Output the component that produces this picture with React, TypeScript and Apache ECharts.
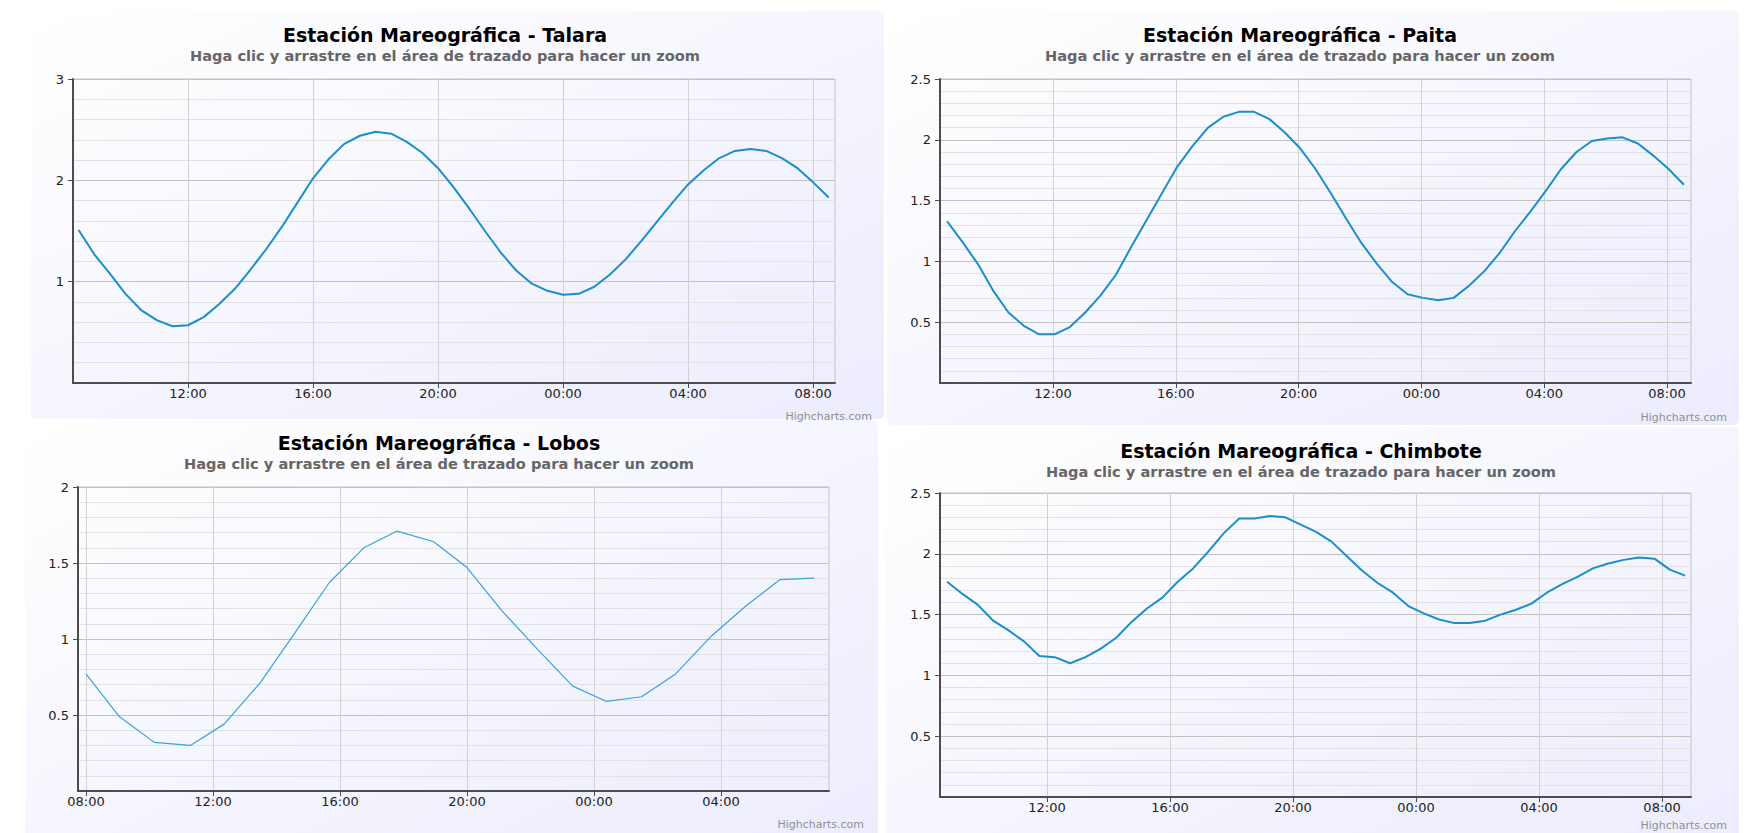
import React, { useEffect, useRef } from "react";
import * as echarts from "echarts";

const titlePrefix = "Estación Mareográfica - ";
const stationNames = ["Talara", "Paita", "Lobos", "Chimbote"];
const subtitleText = "Haga clic y arrastre en el área de trazado para hacer un zoom";
const creditText = "Highcharts.com";

// Talara: readings every 30 min starting 08:30 (hours since day-1 midnight)
const talaraStart = 8.5;
const talaraStep = 0.5;
const talaraValues = [
  1.51, 1.27, 1.08, 0.88, 0.72, 0.62, 0.56, 0.57, 0.65, 0.78, 0.93, 1.12, 1.32,
  1.54, 1.78, 2.02, 2.21, 2.36, 2.44, 2.48, 2.46, 2.38, 2.27, 2.12, 1.93, 1.72,
  1.5, 1.29, 1.11, 0.98, 0.91, 0.87, 0.88, 0.95, 1.07, 1.22, 1.4, 1.59, 1.78,
  1.96, 2.1, 2.22, 2.29, 2.31, 2.29, 2.22, 2.12, 1.98, 1.83,
];

// Paita: readings every 30 min starting 08:33
const paitaStart = 8.55;
const paitaStep = 0.5;
const paitaValues = [
  1.33, 1.16, 0.98, 0.76, 0.58, 0.47, 0.4, 0.4, 0.46, 0.58, 0.72, 0.89, 1.12,
  1.34, 1.56, 1.78, 1.95, 2.1, 2.19, 2.23, 2.23, 2.17, 2.06, 1.93, 1.76, 1.56,
  1.35, 1.15, 0.98, 0.83, 0.73, 0.7, 0.68, 0.7, 0.8, 0.92, 1.07, 1.25, 1.41,
  1.58, 1.76, 1.9, 1.99, 2.01, 2.02, 1.97, 1.87, 1.76, 1.63,
];

// Lobos: irregular readings (hour, value)
const lobosHours = [
  8.0, 9.05, 10.15, 11.29, 12.35, 13.48, 14.58, 15.66, 16.75, 17.8, 18.95, 20.0,
  21.08, 22.23, 23.33, 24.38, 25.5, 26.57, 27.7, 28.8, 29.85, 30.93,
];
const lobosValues = [
  0.77, 0.49, 0.32, 0.3, 0.44, 0.71, 1.04, 1.37, 1.6, 1.71, 1.64, 1.47, 1.19,
  0.93, 0.69, 0.59, 0.62, 0.77, 1.02, 1.22, 1.39, 1.4,
];

// Chimbote: readings every 30 min starting 08:45
const chimboteStart = 8.75;
const chimboteStep = 0.5;
const chimboteValues = [
  1.77, 1.67, 1.58, 1.45, 1.37, 1.28, 1.16, 1.15, 1.1, 1.15, 1.22, 1.31, 1.44,
  1.55, 1.64, 1.77, 1.88, 2.02, 2.17, 2.29, 2.29, 2.31, 2.3, 2.24, 2.18, 2.1,
  1.98, 1.86, 1.76, 1.68, 1.57, 1.51, 1.46, 1.43, 1.43, 1.45, 1.5, 1.54, 1.59,
  1.68, 1.75, 1.81, 1.88, 1.92, 1.95, 1.97, 1.96, 1.87, 1.82,
];

const stdXTicks = [12, 16, 20, 24, 28, 32];
const lobosXTicks = [8, 12, 16, 20, 24, 28];
const xRanges = [
  [8.32, 32.7],
  [8.32, 32.78],
  [7.75, 31.4],
  [8.52, 32.94],
];
const yMaxes = [3, 2.5, 2, 2.5];
const yIntervals = [1, 0.5, 0.5, 0.5];

const FONT = "DejaVu Sans";

function regular(start: number, step: number, vals: number[]) {
  return vals.map((v, i) => [start + i * step, v]);
}

export default function App() {
  const ref = useRef<HTMLDivElement>(null);
  useEffect(() => {
    if (!ref.current) return;
    const chart = echarts.init(ref.current, undefined, { renderer: "svg" });

    const grids = [
      { left: 73, top: 79, width: 762, height: 304 },
      { left: 940, top: 79, width: 751, height: 304 },
      { left: 78, top: 487, width: 751, height: 304 },
      { left: 940, top: 493, width: 751, height: 304 },
    ];
    const panels = [
      { x: 31, y: 11, w: 853, h: 408 },
      { x: 887, y: 11, w: 852, h: 414 },
      { x: 25, y: 420, w: 853, h: 430 },
      { x: 886, y: 427, w: 853, h: 430 },
    ];
    const titles = [
      { cx: 445, ty: 35, sy: 55, crx: 872, cry: 416 },
      { cx: 1300, ty: 35, sy: 55, crx: 1727, cry: 417 },
      { cx: 439, ty: 443, sy: 463, crx: 864, cry: 824 },
      { cx: 1301, ty: 451, sy: 471, crx: 1727, cry: 825 },
    ];
    const datas = [
      regular(talaraStart, talaraStep, talaraValues),
      regular(paitaStart, paitaStep, paitaValues),
      lobosHours.map((h, i) => [h, lobosValues[i]]),
      regular(chimboteStart, chimboteStep, chimboteValues),
    ];
    const fmtHour = (v: number) =>
      String(Math.round(v) % 24).padStart(2, "0") + ":00";

    const graphic: any[] = [];
    panels.forEach((p) => {
      graphic.push({
        type: "rect",
        z: -10,
        silent: true,
        shape: { x: p.x, y: p.y, width: p.w, height: p.h, r: 5 },
        style: {
          fill: new echarts.graphic.LinearGradient(0, 0, 1, 1, [
            { offset: 0, color: "#ffffff" },
            { offset: 1, color: "#ececfd" },
          ]),
        },
      });
    });
    titles.forEach((t, i) => {
      graphic.push({
        type: "text",
        z: 10,
        x: t.cx,
        y: t.ty,
        style: {
          text: titlePrefix + stationNames[i],
          fill: "#000000",
          font: `bold 19px "${FONT}"`,
          textAlign: "center",
          textVerticalAlign: "middle",
        },
      });
      graphic.push({
        type: "text",
        z: 10,
        x: t.cx,
        y: t.sy,
        style: {
          text: subtitleText,
          fill: "#666666",
          font: `bold 14.6px "${FONT}"`,
          textAlign: "center",
          textVerticalAlign: "middle",
        },
      });
      graphic.push({
        type: "text",
        z: 10,
        x: t.crx,
        y: t.cry,
        style: {
          text: creditText,
          fill: "#909090",
          font: `11px "${FONT}"`,
          textAlign: "right",
          textVerticalAlign: "middle",
        },
      });
    });

    const option: any = {
      animation: false,
      backgroundColor: "#ffffff",
      graphic,
      grid: grids.map((g) => ({
        ...g,
        show: true,
        backgroundColor: "transparent",
        borderColor: "#c4c4c4",
        borderWidth: 1,
      })),
      xAxis: grids.map((_, i) => {
        const ticks = i === 2 ? lobosXTicks : stdXTicks;
        return {
          type: "value",
          gridIndex: i,
          min: xRanges[i][0],
          max: xRanges[i][1],
          axisLine: {
            show: true,
            onZero: false,
            lineStyle: { color: "#4d4d4d", width: 2 },
          },
          axisTick: {
            show: true,
            customValues: ticks,
            length: 5,
            lineStyle: { color: "#4d4d4d" },
          },
          axisLabel: {
            customValues: ticks,
            formatter: fmtHour,
            margin: 4,
            color: "#222222",
            fontSize: 13,
            fontFamily: FONT,
          },
          splitLine: { show: true, lineStyle: { color: "#d2d2d2" } },
        };
      }),
      yAxis: grids.map((_, i) => ({
        type: "value",
        gridIndex: i,
        min: 0,
        max: yMaxes[i],
        interval: yIntervals[i],
        axisLine: { show: true, lineStyle: { color: "#4d4d4d", width: 2 } },
        axisTick: { show: true, length: 5, lineStyle: { color: "#4d4d4d" } },
        axisLabel: {
          showMinLabel: false,
          margin: 9,
          color: "#222222",
          fontSize: 13,
          fontFamily: FONT,
        },
        splitLine: { show: true, lineStyle: { color: "#c2c2c2" } },
        minorTick: { show: false, splitNumber: 5 },
        minorSplitLine: { show: true, lineStyle: { color: "#e2e2e2" } },
      })),
      series: datas.map((d, i) => ({
        type: "line",
        xAxisIndex: i,
        yAxisIndex: i,
        data: d,
        showSymbol: false,
        symbol: "none",
        lineStyle: {
          color: i === 2 ? "#3aa3d8" : "#1b8fc8",
          width: i === 2 ? 1.2 : 2,
        },
        z: 3,
      })),
    };
    chart.setOption(option);
    return () => chart.dispose();
  }, []);
  return (
    <div
      ref={ref}
      style={{ position: "absolute", left: 0, top: 0, width: 1756, height: 833 }}
    />
  );
}
